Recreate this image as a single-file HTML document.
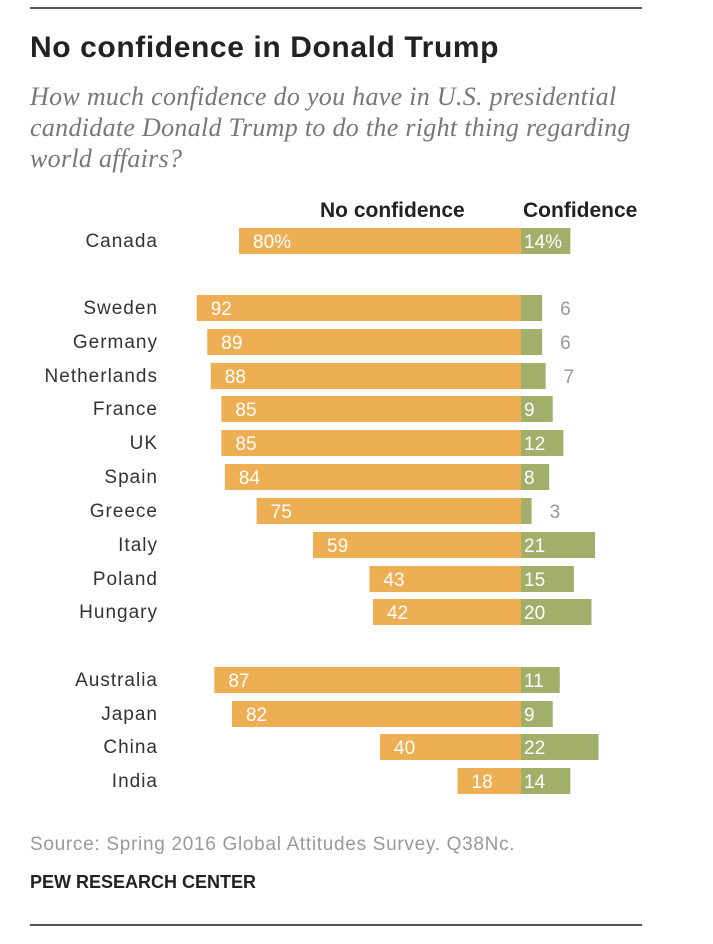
<!DOCTYPE html>
<html><head><meta charset="utf-8"><style>
body{margin:0;background:#fff;width:713px;height:944px;position:relative;font-family:"Liberation Sans",sans-serif;overflow:hidden}
.abs{position:absolute}
</style></head><body>
<div class="abs" style="left:30px;top:7px;width:612px;height:2px;background:#555"></div>
<div class="abs" style="left:30px;top:31px;font-size:30px;font-weight:bold;color:#222;letter-spacing:0.6px">No confidence in Donald Trump</div>
<div class="abs" style="left:30px;top:81px;width:680px;font-family:'Liberation Serif',serif;font-style:italic;font-size:26px;line-height:31px;color:#777;white-space:nowrap;letter-spacing:0.3px">How much confidence do you have in U.S. presidential<br>candidate Donald Trump to do the right thing regarding<br>world affairs?</div>
<div class="abs" style="left:320px;top:199px;font-size:21px;font-weight:bold;color:#222">No confidence</div>
<div class="abs" style="left:523px;top:199px;font-size:21px;font-weight:bold;color:#222">Confidence</div>
<svg class="abs" style="left:0;top:0" width="713" height="944" id="chart"></svg>
<div class="abs" style="left:30px;top:834px;font-size:19px;color:#999;letter-spacing:0.7px">Source: Spring 2016 Global Attitudes Survey. Q38Nc.</div>
<div class="abs" style="left:30px;top:872px;font-size:18px;font-weight:bold;color:#222">PEW RESEARCH CENTER</div>
<div class="abs" style="left:30px;top:924px;width:612px;height:2px;background:#555"></div>
<script>
const countries=["Canada","Sweden","Germany","Netherlands","France","UK","Spain","Greece","Italy","Poland","Hungary","Australia","Japan","China","India"];
const noConf=[80,92,89,88,85,85,84,75,59,43,42,87,82,40,18];
const conf=[14,6,6,7,9,12,8,3,21,15,20,11,9,22,14];
const rowY=[241,308,342,376,409,443,477,511,545,579,612,680,714,747,781];
const zero=521, k=3.525, bh=26;
const x=v=>v*k;
const svg=document.getElementById('chart');
const NS="http://www.w3.org/2000/svg";
function mk(t,a){const e=document.createElementNS(NS,t);for(const n in a)e.setAttribute(n,a[n]);svg.appendChild(e);return e;}
countries.forEach((c,i)=>{
  const y=rowY[i];
  const l=mk('text',{x:158,y:y+6,'text-anchor':'end','font-size':19,'letter-spacing':1,fill:'#333','font-family':'Liberation Sans, sans-serif'});l.textContent=c;
  
  
  const w1=x(noConf[i]);
  const b1=mk('rect',{x:zero-w1,y:y-bh/2,width:w1,height:bh,fill:'#EDAE54'});
  
  
  const t1=mk('text',{x:zero-w1+14,y:y+7,'font-size':19,fill:'#fff','font-family':'Liberation Sans, sans-serif'});t1.textContent=noConf[i]+(i==0?'%':'');
  
  
  const w2=x(conf[i]);
  const b2=mk('rect',{x:zero,y:y-bh/2,width:w2,height:bh,fill:'#A2AF6B'});
  
  
  const inside=conf[i]>=8;
  const t2=mk('text',{x:inside?zero+3:zero+w2+18,y:y+7,'font-size':19,fill:inside?'#fff':'#999','font-family':'Liberation Sans, sans-serif'});t2.textContent=conf[i]+(i==0?'%':'');
  
  
});
</script>
</body></html>
